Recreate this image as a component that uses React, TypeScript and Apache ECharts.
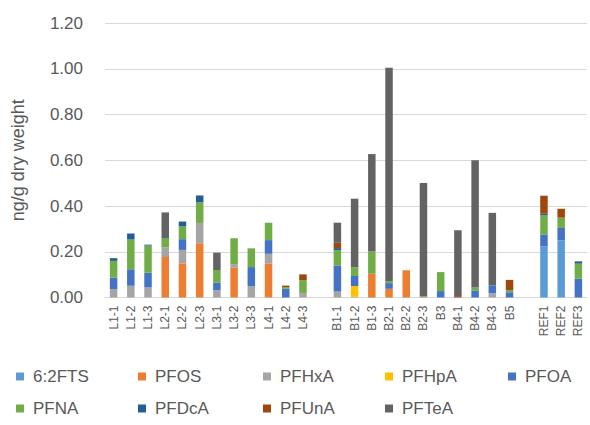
import React, { useEffect, useRef } from "react";
import * as echarts from "echarts";

const categories = [
  "L1-1", "L1-2", "L1-3", "L2-1", "L2-2", "L2-3", "L3-1", "L3-2", "L3-3", "L4-1", "L4-2", "L4-3",
  "",
  "B1-1", "B1-2", "B1-3", "B2-1", "B2-2", "B2-3", "B3", "B4-1", "B4-2", "B4-3", "B5",
  " ",
  "REF1", "REF2", "REF3",
];

const _ = null;
// order: L1-1..L4-3 (12), gap, B1-1..B5 (11), gap, REF1..REF3
const fts62 = [_, _, _, _, _, _, _, _, _, _, _, _, _, _, _, _, _, _, _, _, _, _, _, _, _, 0.223, 0.25, _];
const pfos = [_, _, _, 0.177, 0.149, 0.237, _, 0.13, _, 0.149, _, _, _, _, _, 0.104, 0.038, 0.119, _, _, _, _, _, _, _, _, _, _];
const pfhxa = [0.037, 0.051, 0.044, 0.042, 0.059, 0.089, 0.032, 0.016, 0.05, 0.042, _, 0.02, _, 0.026, 0.003, _, _, _, _, _, _, _, 0.019, _, _, _, _, _];
const pfhpa = [_, _, _, _, _, _, _, _, _, _, _, _, _, _, 0.047, _, _, _, _, _, _, _, _, _, _, _, _, _];
const pfoa = [0.05, 0.073, 0.064, _, 0.047, _, 0.032, _, 0.083, 0.06, 0.038, _, _, 0.114, 0.044, _, 0.025, _, _, 0.028, _, 0.031, 0.034, 0.023, _, 0.053, 0.054, 0.082];
const pfna = [0.073, 0.13, 0.119, 0.041, 0.056, 0.09, 0.056, 0.113, 0.082, 0.076, 0.007, 0.056, _, 0.067, 0.038, 0.097, 0.009, _, 0.004, 0.083, _, 0.013, _, 0.009, _, 0.083, 0.045, 0.066];
const pfdca = [0.012, 0.026, 0.004, 0.004, 0.021, 0.03, _, _, _, _, _, _, _, 0.009, _, _, _, _, _, _, _, _, _, _, _, 0.007, _, 0.01];
const pfuna = [_, _, _, _, _, _, _, _, _, _, 0.007, 0.025, _, 0.023, _, _, _, _, _, _, 0.006, _, _, 0.045, _, 0.079, 0.039, _];
const pftea = [_, _, _, 0.108, _, _, 0.076, _, _, _, _, _, _, 0.088, 0.3, 0.426, 0.932, _, 0.497, _, 0.288, 0.556, 0.317, _, _, _, _, _];

const seriesNames = ["6:2FTS", "PFOS", "PFHxA", "PFHpA", "PFOA", "PFNA", "PFDcA", "PFUnA", "PFTeA"];
const seriesData = [fts62, pfos, pfhxa, pfhpa, pfoa, pfna, pfdca, pfuna, pftea];
const seriesColors = ["#5B9BD5", "#ED7D31", "#A5A5A5", "#FFC000", "#4472C4", "#70AD47", "#255E91", "#9E480E", "#636363"];

const legendLeft = [16, 138, 263, 385, 508, 16, 138, 263, 385];
const legendTop = [368, 368, 368, 368, 368, 400, 400, 400, 400];

const FONT = "Liberation Sans";

export default function App() {
  const ref = useRef<HTMLDivElement>(null);
  useEffect(() => {
    if (!ref.current) return;
    const chart = echarts.init(ref.current, null, { renderer: "svg" });
    chart.setOption({
      animation: false,
      backgroundColor: "#ffffff",
      textStyle: { fontFamily: FONT },
      legend: seriesNames.map((n, i) => ({
        data: [n],
        left: legendLeft[i],
        top: legendTop[i],
        itemWidth: 8,
        itemHeight: 8,
        padding: 0,
        icon: "rect",
        selectedMode: false,
        textStyle: { color: "#595959", fontSize: 17, fontFamily: FONT, padding: [0, 0, 0, 4] },
      })),
      grid: { left: 105, right: 3, top: 23, bottom: 127.5, containLabel: false },
      xAxis: {
        type: "category",
        data: categories,
        axisLine: { lineStyle: { color: "#D9D9D9", width: 1 } },
        axisTick: { show: false },
        axisLabel: { rotate: 90, interval: 0, fontSize: 12, color: "#595959", margin: 8, fontFamily: FONT },
      },
      yAxis: {
        type: "value",
        min: 0,
        max: 1.2,
        interval: 0.2,
        name: "ng/g dry weight",
        nameLocation: "middle",
        nameRotate: 90,
        nameGap: 78,
        nameTextStyle: { fontSize: 18, color: "#595959", fontFamily: FONT },
        axisLine: { show: false },
        axisTick: { show: false },
        axisLabel: { fontSize: 17, color: "#595959", margin: 22, formatter: (v: number) => v.toFixed(2), fontFamily: FONT },
        splitLine: { lineStyle: { color: "#D9D9D9", width: 1 } },
      },
      series: seriesNames.map((n, i) => ({
        name: n,
        type: "bar",
        stack: "total",
        data: seriesData[i],
        barWidth: 7.5,
        itemStyle: { color: seriesColors[i] },
      })),
    });
    return () => chart.dispose();
  }, []);
  return <div ref={ref} style={{ position: "fixed", left: 0, top: 0, width: 590, height: 425 }} />;
}
